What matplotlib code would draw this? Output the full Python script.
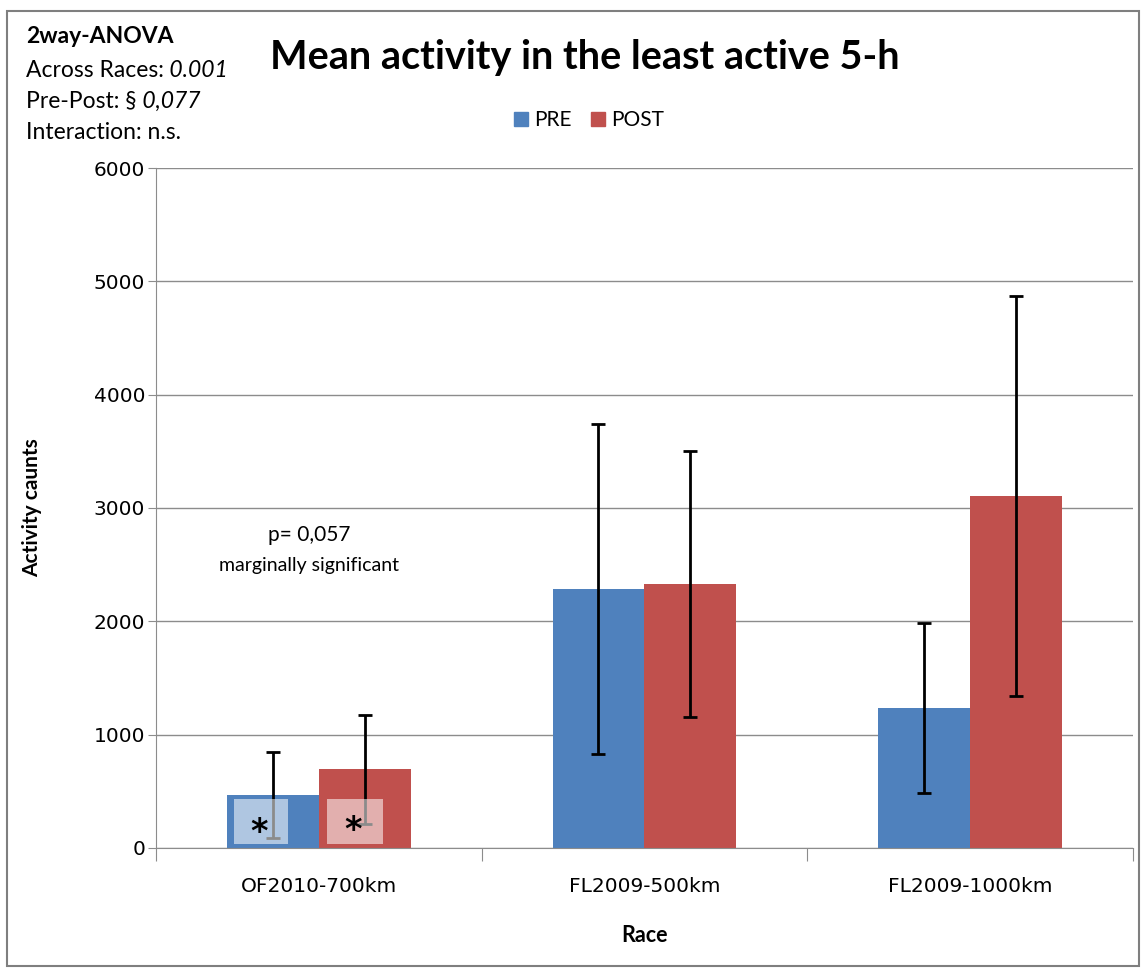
import numpy as np
import matplotlib
matplotlib.use("Agg")
import matplotlib.pyplot as plt
from matplotlib.patches import Rectangle, Patch

# data
races = ["OF2010-700km", "FL2009-500km", "FL2009-1000km"]
pre_mean = [465, 2285, 1235]
pre_err = [380, 1452, 750]
post_mean = [693, 2329, 3106]
post_err = [481, 1173, 1765]
yticks = [0, 1000, 2000, 3000, 4000, 5000, 6000]

BLUE = "#4F81BD"
RED = "#C0504D"
GRID = "#8C8C8C"
TXT = "Lato"

fig = plt.figure(figsize=(11.44, 9.69), dpi=100)
ax = fig.add_axes([0.1365, 0.1249, 0.8535, 0.7017])

x = np.arange(len(races))
w = 0.282
ekw = dict(ecolor="black", elinewidth=2, capsize=5, capthick=2)
ax.bar(x - w / 2, pre_mean, w, color=BLUE, yerr=pre_err, error_kw=ekw, zorder=2)
ax.bar(x + w / 2, post_mean, w, color=RED, yerr=post_err, error_kw=ekw, zorder=2)

# light boxes with stars over the first group
for x0, x1, sx, sy in [(-0.261, -0.095, -0.184, 140), (0.025, 0.196, 0.104, 150)]:
    ax.add_patch(Rectangle((x0, 35), x1 - x0, 397, facecolor="white", alpha=0.55,
                           edgecolor="none", zorder=4))
    ax.text(sx, sy, "*", ha="center", va="center", fontsize=24, fontweight="bold",
            zorder=5)

ax.set_xlim(-0.5, 2.5)
ax.set_ylim(0, 6000)
ax.set_yticks(yticks)
ax.set_yticklabels([str(t) for t in yticks], fontsize=14.5, family="DejaVu Sans")
ax.yaxis.grid(True, color=GRID, lw=1)
ax.set_axisbelow(True)
ax.tick_params(axis="y", length=6, color=GRID, pad=2)

ax.set_xticks([-0.5, 0.5, 1.5, 2.5])
ax.set_xticklabels([])
ax.tick_params(axis="x", which="major", length=9, color=GRID)
ax.set_xticks(x, minor=True)
ax.set_xticklabels(races, minor=True, fontsize=14.5, family="DejaVu Sans")
ax.tick_params(axis="x", which="minor", length=0, pad=21)

for s in ["top", "right"]:
    ax.spines[s].set_visible(False)
for s in ["left", "bottom"]:
    ax.spines[s].set_color(GRID)

ax.set_ylabel("Activity caunts", fontsize=15, fontweight="bold", family=TXT, labelpad=37)
ax.set_xlabel("Race", fontsize=15.5, fontweight="bold", family=TXT, labelpad=20.5)

ax.text(-0.03, 2762, "p= 0,057", ha="center", va="center", fontsize=15, family=TXT)
ax.text(-0.03, 2497, "marginally significant", ha="center", va="center", fontsize=14,
        family=TXT)

fig.text(0.511, 0.941, "Mean activity in the least active 5-h", ha="center", va="center",
         fontsize=28.5, fontweight="bold", family=TXT)

# stats box top left, italic numbers chained after the plain text
fs = 16.5
fig.text(0.023, 0.9556, "2way-ANOVA", fontsize=fs, fontweight="bold", family=TXT,
         va="baseline")
t1 = fig.text(0.023, 0.921, "Across Races:", fontsize=fs, family=TXT, va="baseline")
ax.annotate(" 0.001", xy=(1, 0), xycoords=t1, va="bottom", fontsize=fs, style="italic",
            family=TXT, annotation_clip=False)
t2 = fig.text(0.023, 0.889, "Pre-Post: \u00a7", fontsize=fs, family=TXT, va="baseline")
ax.annotate(" 0,077", xy=(1, 0), xycoords=t2, va="bottom", fontsize=fs, style="italic",
            family=TXT, annotation_clip=False)
fig.text(0.023, 0.8566, "Interaction: n.s.", fontsize=fs, family=TXT, va="baseline")

handles = [Patch(color=BLUE, label="PRE"), Patch(color=RED, label="POST")]
fig.legend(handles=handles, loc="center", bbox_to_anchor=(0.515, 0.876), ncol=2,
           frameon=False, prop={"family": TXT, "size": 15}, handlelength=0.67,
           handleheight=0.67, handletextpad=0.3, columnspacing=0.9)

fig.add_artist(Rectangle((0.006, 0.003), 0.99, 0.986, transform=fig.transFigure,
                         fill=False, edgecolor="#7F7F7F", lw=1.5))

fig.savefig("out.png", dpi=100)
